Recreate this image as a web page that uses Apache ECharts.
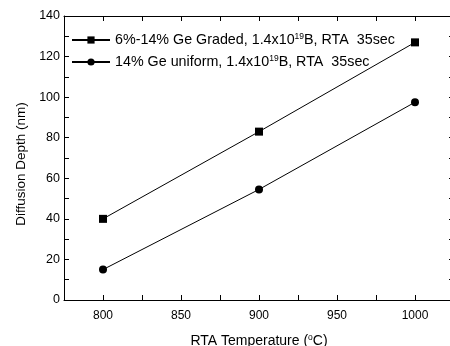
<!DOCTYPE html>
<html>
<head>
<meta charset="utf-8">
<script src="https://cdn.jsdelivr.net/npm/echarts@6/dist/echarts.min.js"></script>
<style>
  html, body { margin: 0; padding: 0; background: #fff; }
  #myChart { width: 450px; height: 346px; }
</style>
</head>
<body>
<div id="myChart"></div>
<script>
// RTA temperature (°C)
var temps = [800, 900, 1000]
// diffusion depth (nm)
var graded = [40, 83, 127]
var uniform = [15, 54.5, 97.5]
var seriesNames = ['graded', 'uniform']
var xLabels = [800, 850, 900, 950, 1000]

var font = 'Liberation Sans, Arial, sans-serif'
var sup = { fontSize: 8.5, verticalAlign: 'top', padding: [0, 0, 7, 0], fontFamily: font, color: '#000' }
var legTxt = { fontFamily: font, fontSize: 14.3, color: '#000' }
var nameTxt = { fontFamily: font, fontSize: 14, color: '#000' }

function pairs(ys) {
  var out = []
  for (var i = 0; i < temps.length; i++) out.push([temps[i], ys[i]])
  return out
}

var myChart = echarts.init(document.getElementById('myChart'))

var axisBase = {
  axisLine: { show: true, onZero: false, lineStyle: { color: '#000', width: 1 } },
  splitLine: { show: false },
  axisTick: { show: true, inside: true, length: 5, lineStyle: { color: '#000' } }
}

myChart.setOption({
  animation: false,
  grid: { left: 64, top: 16, width: 390, height: 284, outerBoundsMode: 'none', containLabel: false },
  legend: {
    orient: 'vertical',
    left: 66,
    top: 27,
    itemWidth: 38,
    itemHeight: 9,
    itemGap: 7,
    data: seriesNames,
    textStyle: { fontFamily: font, fontSize: 14.3, color: '#000', rich: { sup: sup, t: legTxt } },
    formatter: function (name) {
      if (name === 'graded') return '{t|6%-14% Ge Graded, 1.4x10}{sup|19}{t|B, RTA  35sec}'
      return '{t|14% Ge uniform, 1.4x10}{sup|19}{t|B, RTA  35sec}'
    }
  },
  xAxis: [
    Object.assign({}, axisBase, {
      type: 'value', min: 775, max: 1025, interval: 25, position: 'bottom',
      name: '{t|RTA Temperature (}{sup|o}{t|C)}',
      nameLocation: 'middle', nameGap: 33,
      nameTextStyle: { fontFamily: font, fontSize: 14, color: '#000', rich: { sup: sup, t: nameTxt } },
      axisLabel: {
        fontFamily: font, fontSize: 12, color: '#000', margin: 10,
        formatter: function (v) { return xLabels.indexOf(v) >= 0 ? String(v) : '' }
      }
    }),
    Object.assign({}, axisBase, {
      type: 'value', min: 775, max: 1025, interval: 25, position: 'top',
      axisLabel: { show: false }
    })
  ],
  yAxis: [
    Object.assign({}, axisBase, {
      type: 'value', min: 0, max: 140, interval: 10, position: 'left',
      name: 'Diffusion Depth (nm)',
      nameLocation: 'middle', nameGap: 36,
      nameTextStyle: { fontFamily: font, fontSize: 13.5, color: '#000', padding: [0, 12, 0, 0] },
      axisLabel: {
        fontFamily: font, fontSize: 12.5, color: '#000', margin: 4,
        formatter: function (v) { return v % 20 === 0 ? String(v) : '' }
      }
    }),
    Object.assign({}, axisBase, {
      type: 'value', min: 0, max: 140, interval: 10, position: 'right',
      axisLabel: { show: false }
    })
  ],
  series: [
    {
      name: 'graded', type: 'line', data: pairs(graded),
      symbol: 'rect', symbolSize: 8,
      lineStyle: { color: '#000', width: 1 },
      itemStyle: { color: '#000' }
    },
    {
      name: 'uniform', type: 'line', data: pairs(uniform),
      symbol: 'circle', symbolSize: 8,
      lineStyle: { color: '#000', width: 1 },
      itemStyle: { color: '#000' }
    }
  ]
})
</script>
</body>
</html>
